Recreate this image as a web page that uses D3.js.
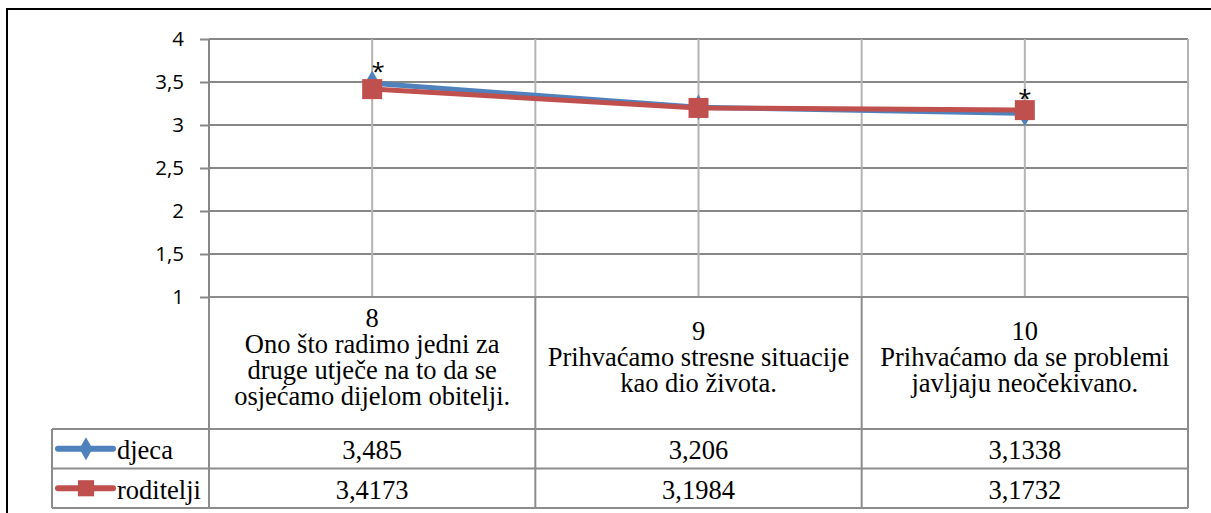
<!DOCTYPE html>
<html>
  <head>
    <script src="https://cdn.jsdelivr.net/npm/d3@7"></script>
  </head>
  <body style="margin:0">
    <script type="text/javascript">

var categories = ["8", "9", "10"];
var categoryText = [
  ["Ono što radimo jedni za", "druge utječe na to da se", "osjećamo dijelom obitelji."],
  ["Prihvaćamo stresne situacije", "kao dio života."],
  ["Prihvaćamo da se problemi", "javljaju neočekivano."]
];
var seriesNames = ["djeca", "roditelji"];
var djeca = [3.485, 3.206, 3.1338];
var roditelji = [3.4173, 3.1984, 3.1732];
var starred = [true, false, true];
var yTicks = [1, 1.5, 2, 2.5, 3, 3.5, 4];

var blue = "#4f81bd", red = "#c0504d";

var series = [
  {name: seriesNames[0], values: djeca, color: blue, marker: d3.symbolDiamond, size: 190, legendSize: 150},
  {name: seriesNames[1], values: roditelji, color: red, marker: d3.symbolSquare, size: 400, legendSize: 260}
];

var width = 1211, height = 513;
var plotLeft = 209, plotRight = 1188, plotTop = 39, plotBottom = 297;
var headBottom = 429, rowH = 39.5, legendLeft = 52;

var svg = d3.select("body").append("svg")
    .attr("width", width)
    .attr("height", height)
    .style("display", "block");

// outer chart border
svg.append("rect")
    .attr("x", 7).attr("y", 9)
    .attr("width", 1230).attr("height", 540)
    .attr("fill", "none")
    .attr("stroke", "#000")
    .attr("stroke-width", 2);

var x = d3.scaleBand().domain(categories).range([plotLeft, plotRight]);
var y = d3.scaleLinear().domain([1, 4]).range([plotBottom, plotTop]);

// horizontal gridlines
svg.append("g").selectAll("line")
    .data(yTicks)
  .enter().append("line")
    .attr("x1", plotLeft).attr("x2", plotRight)
    .attr("y1", y).attr("y2", y)
    .attr("stroke", "#878787")
    .attr("stroke-width", 2);

// vertical gridlines at centers and edges
var vx = [];
categories.forEach(function(c) {
  vx.push(x(c) + x.bandwidth() / 2);
  vx.push(x(c) + x.bandwidth());
});
svg.append("g").selectAll("line")
    .data(vx)
  .enter().append("line")
    .attr("x1", function(d) { return d; }).attr("x2", function(d) { return d; })
    .attr("y1", plotTop).attr("y2", plotBottom)
    .attr("stroke", "#b4b4b4")
    .attr("stroke-width", 2);

// y axis
var yAxis = d3.axisLeft(y)
    .tickValues(yTicks)
    .tickSize(9)
    .tickPadding(16)
    .tickFormat(function(d) { return String(d).replace(".", ","); });

var ga = svg.append("g")
    .attr("transform", "translate(" + plotLeft + ",0)")
    .call(yAxis);
ga.select(".domain").remove();
ga.selectAll(".tick text")
    .style("font-family", "Open Sans")
    .style("font-size", "20.5px")
    .attr("fill", "#000");
ga.selectAll(".tick line").attr("stroke", "#878787").attr("stroke-width", 2);
ga.append("line")
    .attr("y1", plotTop).attr("y2", plotBottom)
    .attr("stroke", "#878787")
    .attr("stroke-width", 2);

// series
var cx = function(d, i) { return x(categories[i]) + x.bandwidth() / 2; };
var line = d3.line()
    .x(cx)
    .y(function(d) { return y(d); });

series.forEach(function(s) {
  svg.append("path")
      .datum(s.values)
      .attr("d", line)
      .attr("fill", "none")
      .attr("stroke", s.color)
      .attr("stroke-width", 5)
      .attr("stroke-linejoin", "round");
  svg.append("g").selectAll("path")
      .data(s.values)
    .enter().append("path")
      .attr("transform", function(d, i) { return "translate(" + cx(d, i) + "," + y(d) + ")"; })
      .attr("d", d3.symbol().type(s.marker).size(s.size))
      .attr("fill", s.color);
});

// significance marks
svg.append("g").selectAll("text")
    .data(categories.filter(function(c, i) { return starred[i]; }))
  .enter().append("text")
    .attr("x", function(c) { return x(c) + x.bandwidth() / 2 + (c === "8" ? 6 : 0); })
    .attr("y", function(c) {
      var i = categories.indexOf(c);
      return y(Math.max(djeca[i], roditelji[i])) - 3;
    })
    .attr("text-anchor", "middle")
    .style("font-family", "Open Sans")
    .style("font-size", "24px")
    .text("*");

// data table
var table = svg.append("g");
var gridColor = "#8c8c8c";

// header cells
categories.forEach(function(c, i) {
  var lines = [c].concat(categoryText[i]);
  var cxm = x(c) + x.bandwidth() / 2;
  var y0 = 357 - (lines.length - 1) * 26 / 2;
  lines.forEach(function(t, j) {
    table.append("text")
        .attr("x", cxm)
        .attr("y", y0 + j * 26)
        .attr("dy", "0.35em")
        .attr("text-anchor", "middle")
        .style("font-family", "Liberation Serif")
        .style("font-size", "26.5px")
        .text(t);
  });
});

// rows
series.forEach(function(s, r) {
  var ly = headBottom + r * rowH + rowH / 2;
  table.append("line")
      .attr("x1", legendLeft + 6).attr("x2", legendLeft + 61)
      .attr("y1", ly).attr("y2", ly)
      .attr("stroke", s.color).attr("stroke-width", 6)
      .attr("stroke-linecap", "round");
  table.append("path")
      .attr("transform", "translate(" + (legendLeft + 34) + "," + ly + ")")
      .attr("d", d3.symbol().type(s.marker).size(s.legendSize))
      .attr("fill", s.color);
  table.append("text")
      .attr("x", legendLeft + 65)
      .attr("y", ly + 1)
      .attr("dy", "0.35em")
      .style("font-family", "Liberation Serif")
      .style("font-size", "26.5px")
      .text(s.name);
  table.selectAll(null)
      .data(s.values)
    .enter().append("text")
      .attr("x", cx)
      .attr("y", ly + 1)
      .attr("dy", "0.35em")
      .attr("text-anchor", "middle")
      .style("font-family", "Liberation Serif")
      .style("font-size", "26.5px")
      .text(function(d) { return String(d).replace(".", ","); });
});

// table grid
var hl = [headBottom, headBottom + rowH, headBottom + 2 * rowH];
table.selectAll(null)
    .data(hl)
  .enter().append("line")
    .attr("x1", legendLeft).attr("x2", plotRight)
    .attr("y1", function(d) { return d; }).attr("y2", function(d) { return d; })
    .attr("stroke", gridColor).attr("stroke-width", 2);
table.append("line")
    .attr("x1", plotLeft).attr("x2", plotRight)
    .attr("y1", plotBottom).attr("y2", plotBottom)
    .attr("stroke", gridColor).attr("stroke-width", 2);
var tv = [plotLeft].concat(categories.map(function(c) { return x(c) + x.bandwidth(); }));
table.selectAll(null)
    .data(tv)
  .enter().append("line")
    .attr("x1", function(d) { return d; }).attr("x2", function(d) { return d; })
    .attr("y1", plotBottom).attr("y2", headBottom + 2 * rowH)
    .attr("stroke", gridColor).attr("stroke-width", 2);
table.append("line")
    .attr("x1", legendLeft).attr("x2", legendLeft)
    .attr("y1", headBottom).attr("y2", headBottom + 2 * rowH)
    .attr("stroke", gridColor).attr("stroke-width", 2);

    </script>
  </body>
</html>
